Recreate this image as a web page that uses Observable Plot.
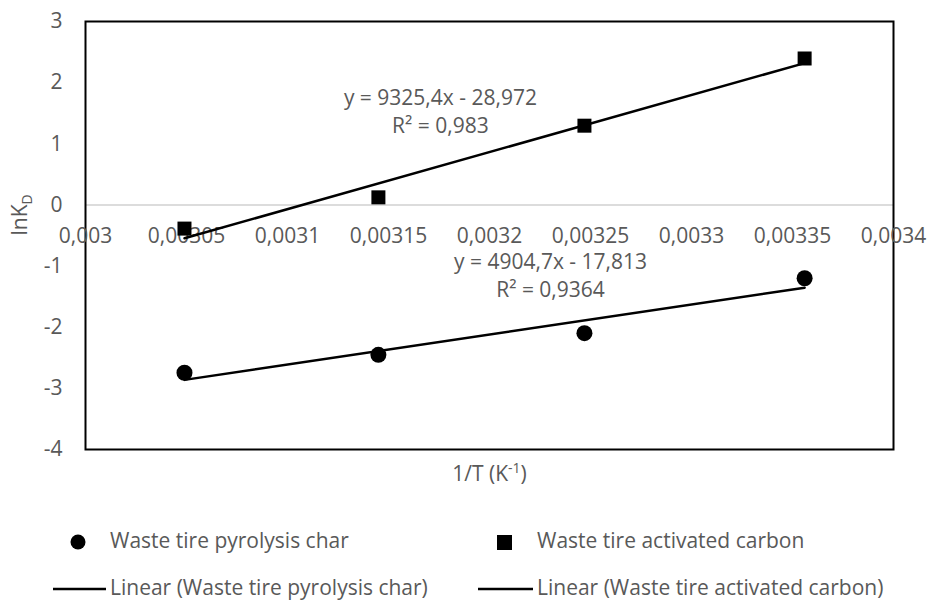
<!DOCTYPE html>
<html>
<head>
<meta charset="utf-8">
<script src="https://cdn.jsdelivr.net/npm/d3@7"></script>
<script src="https://cdn.jsdelivr.net/npm/@observablehq/plot@0.6"></script>
<style>
  body { margin: 0; background: #fff; }
  #wrap { position: relative; width: 928px; height: 600px; font-family: "Open Sans", sans-serif; color: #595959; }
  .leg { position: absolute; font-size: 21px; line-height: 1; white-space: nowrap; }
  .sw { position: absolute; }
</style>
</head>
<body>
<div id="wrap"></div>
<script>
// ---- data ----
const xTicks = [0.003, 0.00305, 0.0031, 0.00315, 0.0032, 0.00325, 0.0033, 0.00335, 0.0034];
const yTicks = [-4, -3, -2, -1, 0, 1, 2, 3];
const invT = [0.003049, 0.003145, 0.003247, 0.003356];
const charLnKD = [-2.745, -2.451, -2.098, -1.199];
const carbonLnKD = [-0.387, 0.124, 1.296, 2.395];
const seriesNames = ["Waste tire pyrolysis char", "Waste tire activated carbon"];
const carbonEq = ["y = 9325,4x - 28,972", "R² = 0,983"];
const charEq = ["y = 4904,7x - 17,813", "R² = 0,9364"];

const charData = invT.map((x, i) => ({x, y: charLnKD[i]}));
const carbonData = invT.map((x, i) => ({x, y: carbonLnKD[i]}));
const fmt = d => String(d).replace(".", ",");
const FS = 21;

const chart = Plot.plot({
  width: 928,
  height: 500,
  marginLeft: 85,
  marginRight: 35,
  marginTop: 21,
  marginBottom: 51,
  style: {fontFamily: "Open Sans, sans-serif", fontSize: FS + "px", color: "#595959", background: "#fff"},
  x: {domain: [0.003, 0.0034], axis: null},
  y: {domain: [-4, 3], axis: null},
  marks: [
    Plot.ruleY([0], {stroke: "#d0d0d0", strokeWidth: 1.5}),
    Plot.frame({stroke: "#000", strokeWidth: 2}),
    Plot.axisY({ticks: yTicks, tickSize: 0, tickPadding: 23, tickFormat: d => String(d), label: null, fill: "#595959", fontSize: FS}),
    Plot.text(xTicks, {x: d => d, y: 0, dy: 31, text: fmt, textAnchor: "middle", lineAnchor: "middle", fill: "#595959", fontSize: FS}),
    Plot.linearRegressionY(charData, {x: "x", y: "y", stroke: "#000", strokeWidth: 2.5, ci: 0}),
    Plot.linearRegressionY(carbonData, {x: "x", y: "y", stroke: "#000", strokeWidth: 2.5, ci: 0}),
    Plot.dot(charData, {x: "x", y: "y", r: 8, symbol: "circle", fill: "#000"}),
    Plot.dot(carbonData, {x: "x", y: "y", r: 7.9, symbol: "square", fill: "#000"}),
    Plot.text([carbonEq[0]], {x: 0.0031757, y: 1.75, text: d => d, lineAnchor: "middle", fill: "#595959", fontSize: FS}),
    Plot.text([carbonEq[1]], {x: 0.0031757, y: 1.29, text: d => d, lineAnchor: "middle", fill: "#595959", fontSize: FS}),
    Plot.text([charEq[0]], {x: 0.0032302, y: -0.94, text: d => d, lineAnchor: "middle", fill: "#595959", fontSize: FS}),
    Plot.text([charEq[1]], {x: 0.0032302, y: -1.40, text: d => d, lineAnchor: "middle", fill: "#595959", fontSize: FS}),
    Plot.text(["lnKD"], {frameAnchor: "left", dx: -65, rotate: -90, text: d => d, lineAnchor: "middle", fill: "#595959", fontSize: FS}),
    Plot.text(["1/T (K-1)"], {frameAnchor: "bottom", dy: 25, text: d => d, lineAnchor: "middle", fill: "#595959", fontSize: FS})
  ]
});

// sub/superscripts as real text
chart.querySelectorAll("text").forEach(t => {
  if (t.textContent === "lnKD") {
    const tgt = t.querySelector("tspan") || t;
    tgt.textContent = "lnK";
    const s = document.createElementNS("http://www.w3.org/2000/svg", "tspan");
    s.setAttribute("font-size", "14px");
    s.setAttribute("dy", "5");
    s.textContent = "D";
    tgt.appendChild(s);
  } else if (t.textContent === "1/T (K-1)") {
    const tgt = t.querySelector("tspan") || t;
    tgt.textContent = "1/T (K";
    const s = document.createElementNS("http://www.w3.org/2000/svg", "tspan");
    s.setAttribute("font-size", "14px");
    s.setAttribute("dy", "-8");
    s.textContent = "-1";
    tgt.appendChild(s);
    const e = document.createElementNS("http://www.w3.org/2000/svg", "tspan");
    e.setAttribute("dy", "8");
    e.textContent = ")";
    tgt.appendChild(e);
  }
});

const wrap = document.getElementById("wrap");
chart.style.position = "absolute";
chart.style.left = "0px";
chart.style.top = "0px";
wrap.appendChild(chart);

// legend (below the SVG)
function add(html) { wrap.insertAdjacentHTML("beforeend", html); }
add(`<svg class="sw" style="left:70px;top:534px" width="16" height="16"><circle cx="8" cy="8" r="7.5" fill="#000"/></svg>`);
add(`<div class="leg" style="left:110px;top:530px">${seriesNames[0]}</div>`);
add(`<svg class="sw" style="left:497px;top:535px" width="15" height="15"><rect width="15" height="15" fill="#000"/></svg>`);
add(`<div class="leg" style="left:537px;top:530px">${seriesNames[1]}</div>`);
add(`<svg class="sw" style="left:53px;top:587px" width="53" height="4"><line x1="0" x2="53" y1="2" y2="2" stroke="#000" stroke-width="2.5"/></svg>`);
add(`<div class="leg" style="left:110px;top:577px">Linear (${seriesNames[0]})</div>`);
add(`<svg class="sw" style="left:478px;top:587px" width="55" height="4"><line x1="0" x2="55" y1="2" y2="2" stroke="#000" stroke-width="2.5"/></svg>`);
add(`<div class="leg" style="left:537px;top:577px">Linear (${seriesNames[1]})</div>`);
</script>
</body>
</html>
